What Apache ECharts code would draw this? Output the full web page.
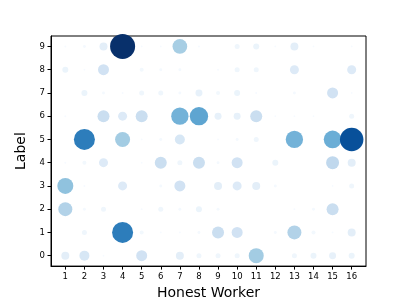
<!DOCTYPE html>
<html>
<head>
<meta charset="utf-8">
<script src="https://cdn.jsdelivr.net/npm/echarts@6/dist/echarts.min.js"></script>
<style>html,body{margin:0;padding:0;background:#fff;}#c{width:407px;height:305px;}</style>
</head>
<body>
<div id="c"></div>
<script>
const workers = [1,2,3,4,5,6,7,8,9,10,11,12,13,14,15,16];
const labels = [0,1,2,3,4,5,6,7,8,9];
// relative share (percent of max) per label row, worker 1..16
const label0 = [10.2,16,0.5,0,19.4,0,10.2,4,4,4,36,0,4,5.8,7.8,5.8];
const label1 = [0,4,0,70.6,2.6,0.6,0.6,1.4,23,19.4,0,1.4,31.4,2.6,0.6,10.2];
const label2 = [31.4,1.4,4,0,0.6,4,1.4,5.8,1.4,0,0,0,0.6,1.4,23,0];
const label3 = [41,0.6,0,13,0,1.4,19.4,0,10.2,13,10.2,1.4,0,0,0.5,4];
const label4 = [0.6,2.6,13,0,0.5,23,4,23,1.4,19.4,0,5.8,0,0,27,10.2];
const label5 = [0,70.6,0,36,0.5,1.4,16,0,0.5,1.4,4,0,48,0,50,88];
const label6 = [0.6,0,23,13,23,0,48,54,7.8,7.8,23,0.5,0.5,0.5,0,4];
const label7 = [0,5.8,1.4,0.6,4,4,1.4,7.8,2.6,5.8,0.6,0,1.4,0,19.4,0.5];
const label8 = [5.8,0.5,19.4,0,2.6,1.4,1.4,0,0.6,4,4,0,13,0,0,13];
const label9 = [0.6,1.4,10.2,100,0.5,0.5,34.6,0.6,0,4,5.8,0.5,10.2,0.5,0,0.5];
const rows = [label0,label1,label2,label3,label4,label5,label6,label7,label8,label9];

const blues = ['#f7fbff','#deebf7','#c6dbef','#9ecae1','#6baed6','#4292c6','#2171b5','#08519c','#08306b'];

const data = [];
labels.forEach((lab, i) => {
  rows[i].forEach((v, j) => {
    if (v > 0) data.push([workers[j], lab, v]);
  });
});

const chart = echarts.init(document.getElementById('c'), null, {renderer: 'canvas'});
const font = 'DejaVu Sans';
chart.setOption({
  animation: false,
  backgroundColor: '#fff',
  grid: {left: 51, right: 41, top: 36, bottom: 35, show: true, borderColor: '#000', borderWidth: 1, backgroundColor: 'transparent'},
  visualMap: {show: false, type: 'continuous', dimension: 2, min: 0, max: 100, inRange: {color: blues}},
  xAxis: {
    type: 'value', min: 0.25, max: 16.75,
    name: 'Honest Worker', nameLocation: 'middle', nameGap: 19,
    nameTextStyle: {fontFamily: font, fontSize: 14, color: '#000'},
    splitLine: {show: false},
    axisLine: {show: true, onZero: false, lineStyle: {color: '#000', width: 1}},
    axisTick: {show: true, length: 3.5, customValues: workers, lineStyle: {color: '#000'}},
    axisLabel: {customValues: workers, margin: 6, fontFamily: font, fontSize: 8.5, color: '#000'}
  },
  yAxis: {
    type: 'value', min: -0.45, max: 9.45,
    name: 'Label', nameLocation: 'middle', nameGap: 22,
    nameTextStyle: {fontFamily: font, fontSize: 14, color: '#000'},
    splitLine: {show: false},
    axisLine: {show: true, onZero: false, lineStyle: {color: '#000', width: 1}},
    axisTick: {show: true, length: 3.5, customValues: labels, lineStyle: {color: '#000'}},
    axisLabel: {customValues: labels, margin: 6, fontFamily: font, fontSize: 8.5, color: '#000'}
  },
  series: [{
    type: 'scatter',
    data: data,
    symbolSize: function (d) { return 25 * Math.sqrt(d[2] / 100); },
    itemStyle: {opacity: 1}
  }]
});
</script>
</body>
</html>
